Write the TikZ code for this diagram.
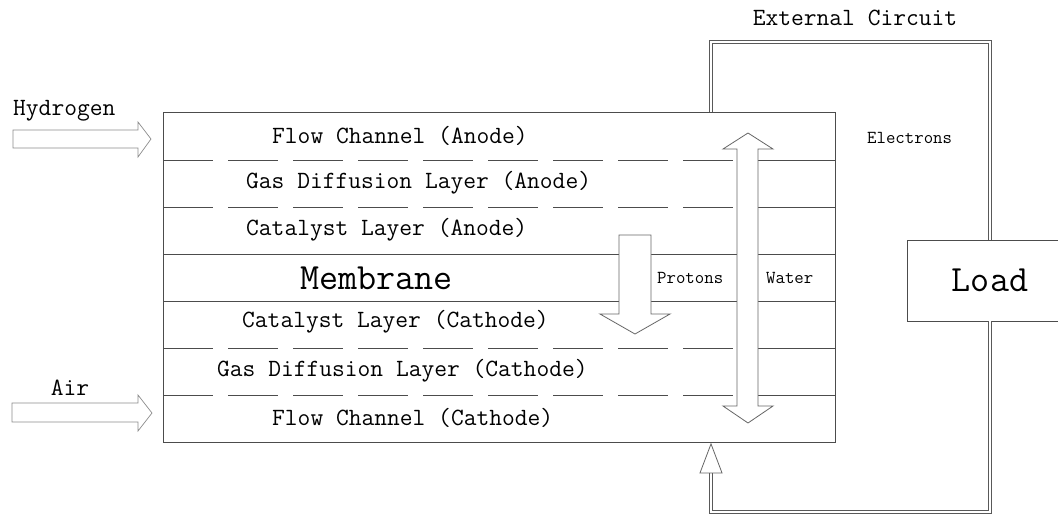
\documentclass[tikz,border=0pt]{standalone}
\usetikzlibrary{calc}
\begin{document}
\begin{tikzpicture}[x=1pt,y=-1pt,
  ln/.style={draw=black!70, line width=0.9pt},
  dl/.style={ln, dash pattern=on 50pt off 15pt},
  lbl/.style={font=\ttfamily\fontsize{24.8}{28}\selectfont, inner sep=0pt, anchor=west},
  sm/.style={font=\ttfamily\fontsize{18.3}{21}\selectfont, inner sep=0pt, anchor=west},
  big/.style={font=\ttfamily\fontsize{37}{42}\selectfont, inner sep=0pt},
  wire/.style={draw=black!65, double=white, double distance=2.6pt, line width=0.8pt},
  blk/.style={draw=black!60, fill=white, line width=0.8pt},
  faint/.style={draw=black!45, fill=white, line width=0.7pt}]
\clip (0,0) rectangle (1058,515);
\useasboundingbox (0,0) rectangle (1058,515);

% cell
\node[ln, minimum width=672pt, minimum height=330pt, inner sep=0pt, anchor=north west] (cell) at (163,112) {};
\foreach \y in {160,207,348,395}{
  \draw[dl] (163,\y) -- (737,\y);
  \draw[ln] (758,\y) -- (835,\y);
}
\foreach \y in {254.5,301}{
  \draw[ln] (163,\y) -- (835,\y);
}

% layer labels
\node[lbl] (fca) at (272,136) {Flow Channel (Anode)};
\node[lbl] (gda) at (246,183) {Gas Diffusion Layer (Anode)};
\node[lbl] (cla) at (246,230) {Catalyst Layer (Anode)};
\node[big, anchor=west] (mem) at (300,278) {Membrane};
\node[lbl] (clc) at (242,322) {Catalyst Layer (Cathode)};
\node[lbl] (gdc) at (217,371) {Gas Diffusion Layer (Cathode)};
\node[lbl] (fcc) at (272,418) {Flow Channel (Cathode)};

% protons arrow
\draw[blk] (619,235) -- (651,235) -- (651,314) -- (670,314) -- (635,334) -- (600,314) -- (619,314) -- cycle;
\node[sm] (prot) at (657,278) {Protons};

% water double arrow
\draw[blk] (737,149) -- (723,149) -- (748,133) -- (773,149) -- (758,149) -- (758,406) -- (773,406) -- (748,423) -- (723,406) -- (737,406) -- cycle;
\node[sm] (water) at (766,278) {Water};

% inlet arrows
\draw[faint] (13,130) -- (138,130) -- (138,122) -- (151,139) -- (138,157) -- (138,148) -- (13,148) -- cycle;
\node[lbl] (h2) at (13,111) {Hydrogen};
\draw[faint] (12,403) -- (138,403) -- (138,395) -- (152,413) -- (138,431) -- (138,422) -- (12,422) -- cycle;
\node[lbl, anchor=center] (air) at (70,388) {Air};

% external circuit
\node[draw=black!70, line width=0.9pt, minimum width=166pt, minimum height=81pt, inner sep=0pt,
      font=\ttfamily\fontsize{37}{42}\selectfont] (load) at (990,280.5) {Load};
\coordinate (ctop) at ($(cell.north west)+(548,0)$);
\coordinate (cbot) at ($(cell.south west)+(548,30)$);
\draw[wire] (ctop) |- (990,42) -- (load.north);
\draw[wire] (load.south) -- (990,512) -| (cbot);
\draw[blk] ($(cbot)+(-11,0)$) -- ($(cbot)+(11,0)$) -- ($(cell.south west)+(548,1)$) -- cycle;
\node[lbl, anchor=center] (ext) at (855,18) {External Circuit};
\node[sm] (elec) at (867,138) {Electrons};
\end{tikzpicture}
\end{document}
